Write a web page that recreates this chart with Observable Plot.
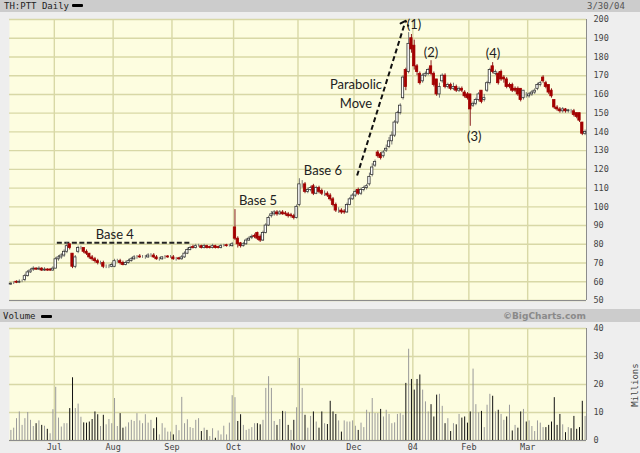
<!DOCTYPE html>
<html><head><meta charset="utf-8">
<script src="https://cdn.jsdelivr.net/npm/d3@7"></script>
<script src="https://cdn.jsdelivr.net/npm/@observablehq/plot@0.6"></script>
<style>
html,body{margin:0;padding:0;background:#eeeeee;}
#wrap{position:relative;width:640px;height:453px;overflow:hidden;background:#eeeeee;}
.bar{position:absolute;left:0;width:640px;background:#cccccc;}
.mono{position:absolute;font-family:"DejaVu Sans Mono",monospace;font-size:9px;line-height:9px;white-space:nowrap;}
.dash{position:absolute;width:11px;height:3px;background:#000;border-radius:1px;}
#price,#vol{position:absolute;left:0;}
svg{display:block;}
</style></head>
<body><div id="wrap">
<div class="bar" style="top:0;height:12px"></div>
<div class="mono" style="left:4px;top:2px;color:#222">TH:PTT Daily</div>
<div class="dash" style="left:72px;top:4px"></div>
<div class="mono" style="left:587px;top:2px;color:#555">3/30/04</div>
<div id="price" style="top:12px"></div>
<div class="bar" style="top:309px;height:13px"></div>
<div class="mono" style="left:3px;top:312px;color:#222">Volume</div>
<div class="dash" style="left:41px;top:315px"></div>
<div style="position:absolute;left:503px;top:311px;font-family:'DejaVu Sans',sans-serif;font-weight:bold;font-size:9px;line-height:10px;color:#8a8a8a;white-space:nowrap">©BigCharts.com</div>
<div id="vol" style="top:322px"></div>
<div class="mono" style="left:613px;top:381px;width:44px;text-align:center;color:#444;transform:rotate(-90deg);transform-origin:22px 4px">Millions</div>
</div>
<script>
// ---- data ----
const open = [
58.5,59,60,59.5,60,61,63,65,66.5,67,66.5,67,66,66.5,66.5,66,
67,72,73,74,76,80,75,68,76,78,78,76,75,73,72,71,70,70,68,68,68,
68,71,71,70,69,70,71,72,73,73.5,73,73,73,74,74,73,72,72,73,73.5,73,
73,72,72.5,72,73,75,77,78.5,78,79,79,78,79,78.5,78,79,78.5,78,79,79.5,79,79,
89,83,80.5,79,80,82,83.5,84.5,86,84,82,86,90,95,96,97,96,97,96.5,96,95.5,95,94,
101,112,112,108,109,111,107,110,108.5,107,107,106,104,101,98,98,97.5,97,101,104,
106,109,107,109,110,112,117,122,129,128,127,130,132,135,138,145,150,158,173,172,
190,186,175,171,167,170,171,175,171,168,160,167,170,164,165,163,164,162,163,161,160,160,154,155,157,162,157,162,166,175,171,171,172,169,168,165,165,163,163,163,158,160,159,160,161,163,165,169,166,165,162,157,153,152,151,152,151,151,151,150,150,145,139
];
const high = [
59.5,60,60.5,61,61,64,66,67,68,67.5,68,67.5,67.5,67,67,68,
73,74,75,77,81,80,75,74,79,79,78,77,75,74,73,72,71,71,69,69,70,
72,72,72,71,71,72,73,74,74,74.5,74,74,75,75,75,74,73,73.5,74,74,74,
74,73,73,74,76,78,79,79.5,80,80,79.5,80,79.5,79,80,79.5,79,80,80,80,80,81,
98.5,84,81,81,83,84,85,85.5,86.5,85,87,91,95,97.5,98,98,98,98,97.5,97,96.5,96,101,
115,114,113,110,111,112,111,111,109.5,108.5,108,107,105,102,99.5,99,98.5,102,105,107,
109,110,110,111,112,118,123,125,130,129,130,133,137,140,146,151,155,170,174,193,
192,189,176,172,171,172,174,178,172,168,166,171,171,166,166,166,165,164,164,162,161,160,156,158,161,162,160,167,174,177,173,172,173,170,169,166,166,164,164,163,162,161,161,162,163,166,167,170,167,165,163,157,154,153,153,152.5,152,152,152,150,150,145,141
];
const low = [
58,58.5,59,59,59.5,60,62.5,64.5,65.5,66,66,65.5,65.5,65.5,65.5,65.5,
67,71,72,73,75,77,67,67,75,77,75,74,72,71,70,69,69,67,67,67,67.5,
67.5,70,69,68.5,68.5,69.5,70.5,71.5,72,72.5,72.5,72,72.5,73,72.5,71.5,71,71.5,72,72.5,72.5,
71.5,71,71.5,71.5,72.5,74.5,76.5,77.5,77.5,78.5,77.5,77.5,77.5,77.5,77.5,77.5,77.5,77.5,78.5,78.5,78.5,78.5,
82,78,78,78.5,79.5,81.5,82.5,83,82,81,81.5,85.5,89.5,94,95,95,95.5,95.5,95,94,94,93,93.5,
100,110,107,107,108,106,106.5,107,106,105.5,105,103,100,97,96.5,96,96,96.5,100.5,103.5,
105,106,106,108,109,111,116,121,126,125,126,129,131,133,137,144,149,157,162,171,
182,173,170,165,166,169,170,170,164,159,158,166,163,163,162,162,161,161,161,158,157,143,153,154,156,155,156,161,165,171,170,165,167,166,163,163,161,161,159,156,157,158,158,159,160,162,164,166,163,160,158,152,151,150,150,150,150,150,148,147,145,138,138
];
const close = [
59,59,59.5,60,60,63,65,66,67,66.5,67,66,66.5,66,66,67,
72,73,74,76,79,78,68,73,78,78,76,75,73,72,71,70,70,68,68,68,69,
71,71,70,69,70,71,72,73,73,73,73,73,74,74,73,72,72,73,73,73,73,
72,72,72,73,75,77,78,78,79,79,78,79,78,78,79,78,78,79,79,79,79,80,
83,80,79,80,82,83,84,84,83,82,86,90,94,96,97,96,97,96,96,95,95,94,100,
112,112,108,109,110,107,110,108,107,107,106,104,101,98,98,97,97,101,104,106,
108,107,109,110,111,116,121,124,127,126,129,131,135,138,145,150,154,169,164,187,
184,175,172,166,170,171,173,171,165,160,164,170,164,165,163,164,162,163,162,159,158,152,155,157,160,156,158,166,173,172,172,166,168,168,164,164,162,162,160,157,162,160,160,161,162,165,166,167,164,161,159,153,152,151,152,151,151.5,151,149,148,146,139,140
];
const volume = [
3.6,4.4,7.8,10.2,5.4,7.8,10,7.2,5,6,7,5.4,5.1,4,2.4,11,19,8,4.8,6,6,11.4,22.4,11.4,13,8.3,6.3,6.2,6.6,7.5,10.2,9.2,5,9,5.6,7.5,6,15,5,9.6,4.4,4.8,6.3,7.2,6.8,9.6,7,6,9.2,6.2,7.2,4.2,8.1,2,6,4.4,3,3,2,5.4,3.5,15.4,6,7.4,4.6,4.3,7.2,7.8,3.2,4.4,3.6,1.4,4.2,
0.8,3.4,2,5.1,2,6.2,16,15.3,6.8,9.2,5.4,3.6,4,4.6,6,6,5.6,7.2,18.6,22.8,18.6,6.8,5.4,7.5,10.4,10.2,5.4,3.6,7.2,11.7,29.3,18.6,9,4.4,8.6,10.2,6.6,4.4,10.2,6,5.7,14,10.2,9.3,7,3,7,6.6,6.6,7,5.1,3.6,6.2,4.6,10.8,9.9,15,9.6,9.6,11.1,8.4,10.8,9.3,6,6.3,9.3,9.6,9,20.4,32.6,21.8,18,21.8,23.4,
18,13.8,10.2,12.8,8.4,16.2,16.5,12.2,6,7.8,3.2,6,5.6,9.3,8,8.4,6.2,10.2,25.5,12.8,9.9,10.4,4.6,12.6,16.5,15.8,10.2,10.8,9.3,7.2,8.4,12.6,3.4,5.4,4.4,10.2,11.1,6.6,7,5,3.2,7,6.2,4.6,4.6,5.4,6.6,15.3,5.4,9.3,5.6,2.8,4.6,4.2,8.6,4,4.6,14,8.6
];
// index of first trading day of each month, and its label
const monthStart = [16, 37, 58, 80, 103, 123, 144, 164, 185];
const monthLabels = ["Jul", "Aug", "Sep", "Oct", "Nov", "Dec", "04", "Feb", "Mar"];
const priceTicks = [50, 60, 70, 80, 90, 100, 110, 120, 130, 140, 150, 160, 170, 180, 190, 200];
const volumeTicks = [0, 10, 20, 30, 40];

// annotations (in trading-day index / price units)
const notes = [
  {text: "Base 4", i: 37.1, p: 85.7},
  {text: "Base 5", i: 88.2, p: 103.9},
  {text: "Base 6", i: 111.4, p: 119.9},
  {text: "Parabolic\nMove", i: 123.2, p: 160.9},
  {text: "(1)", i: 143.9, p: 198.3},
  {text: "(2)", i: 150.0, p: 183.3},
  {text: "(3)", i: 165.4, p: 138.5},
  {text: "(4)", i: 172.1, p: 182.3}
];
const baseLine = [{i1: 16.4, i2: 64.3, p: 80.8}];
const moveArrow = [{i1: 123.6, p1: 116.7, i2: 140.7, p2: 198.3}];

// ---- build ----
const N = close.length;
const days = close.map((c, i) => ({
  i, open: open[i], high: high[i], low: low[i], close: c, vol: volume[i],
  down: c < open[i], volDown: i > 0 && c < close[i - 1]
}));
const xDomain = [-0.5, N - 0.5];
const monthPos = monthStart.map(s => s - 0.5);
const labelOf = new Map(monthPos.map((p, k) => [p, monthLabels[k]]));

const BG = "#fdfde0", GRID = "#d8d8a6", EDGE = "#8c8c8c";
const axisStyle = {background: "transparent", fontFamily: "DejaVu Sans Mono", fontSize: "8.5px", color: "#444"};

const price = Plot.plot({
  width: 640, height: 297,
  marginLeft: 9, marginRight: 54, marginTop: 7, marginBottom: 9,
  style: axisStyle,
  x: {domain: xDomain, axis: null},
  y: {domain: [50, 200], axis: "right", ticks: priceTicks, tickSize: 0, tickPadding: 7, label: null},
  marks: [
    Plot.frame({fill: BG}),
    Plot.ruleY(priceTicks, {stroke: GRID, strokeWidth: 1.4}),
    Plot.ruleX(monthPos, {stroke: GRID, strokeWidth: 1.4}),
    Plot.ruleY([50], {stroke: EDGE}),
    Plot.ruleX([xDomain[1]], {stroke: EDGE}),
    Plot.link(baseLine, {x1: "i1", x2: "i2", y1: "p", y2: "p", stroke: "#222", strokeWidth: 2, strokeDasharray: "5,2.5"}),
    Plot.ruleX(days, {x: "i", y1: "low", y2: "high", stroke: d => d.down ? "#8a2020" : "#777", strokeWidth: 1}),
    Plot.rect(days, {x1: d => d.i - 0.42, x2: d => d.i + 0.42, y1: "open", y2: "close",
      fill: d => d.down ? "#a30000" : "#ffffff", stroke: d => d.down ? "#a30000" : "#333", strokeWidth: 0.8}),
    Plot.link(moveArrow, {x1: "i1", y1: "p1", x2: "i2", y2: "p2", stroke: "#111", strokeWidth: 2, strokeDasharray: "5,3", markerEnd: "arrow"}),
    Plot.text(notes, {x: "i", y: "p", text: "text", fontFamily: "Lato", fontSize: 13, fill: "#222", lineHeight: 1.4})
  ]
});
document.getElementById("price").appendChild(price);

const vol = Plot.plot({
  width: 640, height: 131,
  marginLeft: 9, marginRight: 54, marginTop: 6, marginBottom: 13,
  style: axisStyle,
  x: {domain: xDomain, ticks: monthPos, tickFormat: d => labelOf.get(d), tickSize: 0, tickPadding: 3, label: null},
  y: {domain: [0, 40], axis: "right", ticks: volumeTicks, tickSize: 0, tickPadding: 7, label: null},
  marks: [
    Plot.frame({fill: BG}),
    Plot.ruleY(volumeTicks, {stroke: GRID, strokeWidth: 1.4}),
    Plot.ruleX(monthPos, {stroke: GRID, strokeWidth: 1.4}),
    Plot.ruleX(days, {x: "i", y1: 0, y2: "vol", stroke: d => d.volDown ? "#111111" : "#9a9a9a", strokeWidth: 1}),
    Plot.ruleY([0], {stroke: EDGE}),
    Plot.ruleX([xDomain[1]], {stroke: EDGE})
  ]
});
document.getElementById("vol").appendChild(vol);
</script>
</body></html>
